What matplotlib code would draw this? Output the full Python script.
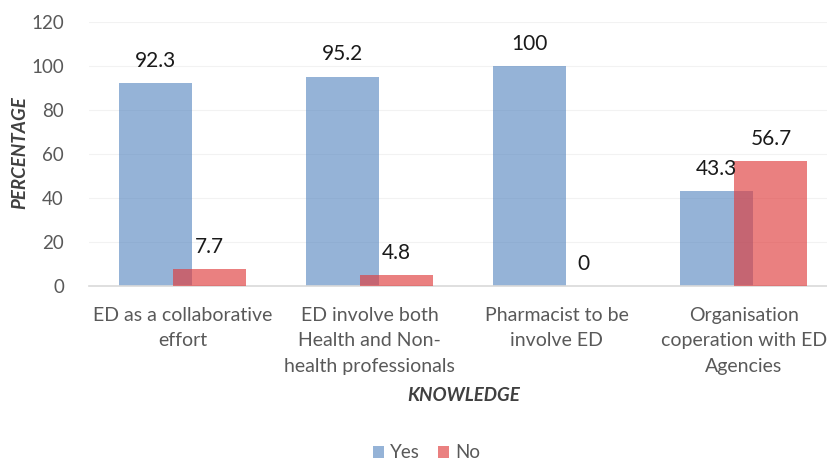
import numpy as np
import matplotlib
matplotlib.use('Agg')
from matplotlib import pyplot as plt

categories = ['ED as a collaborative\neffort',
              'ED involve both\nHealth and Non-\nhealth professionals',
              'Pharmacist to be\ninvolve ED',
              'Organisation\ncoperation with ED\nAgencies']
yes_vals = [92.3, 95.2, 100, 43.3]
no_vals = [7.7, 4.8, 0, 56.7]
yticks = [0, 20, 40, 60, 80, 100, 120]

plt.rcParams['font.family'] = ['Lato', 'DejaVu Sans']

fig = plt.figure(figsize=(8.28, 4.62), dpi=100)
ax = fig.add_axes([0.1075, 0.381, 0.8925, 0.571])

x = np.arange(len(categories))
w = 0.39
off = 0.145
b1 = ax.bar(x - off, yes_vals, w, color='#4f81bd', alpha=0.6, label='Yes', zorder=2)
b2 = ax.bar(x + off, no_vals, w, color='#e03c3c', alpha=0.65, label='No', zorder=3)

for bars, vals in ((b1, yes_vals), (b2, no_vals)):
    for b, v in zip(bars, vals):
        ax.annotate('%g' % v, (b.get_x() + b.get_width() / 2, v),
                    xytext=(0, 16), textcoords='offset points',
                    ha='center', va='center', fontsize=15, color='#1a1a1a', zorder=5)

ax.set_ylim(0, 120)
ax.set_xlim(-0.5, 3.45)
ax.set_yticks(yticks)
ax.set_xticks(x)
ax.set_xticklabels(categories, fontsize=14, color='#595959', linespacing=1.62)
ax.tick_params(axis='y', labelsize=13.5, labelcolor='#595959', length=0, pad=18)
ax.tick_params(axis='x', length=0, pad=15)
ax.grid(axis='y', color='#f2f2f2', linewidth=0.8, zorder=0)
ax.set_axisbelow(True)
for s in ('top', 'right', 'left'):
    ax.spines[s].set_visible(False)
ax.spines['bottom'].set_color('#d9d9d9')
ax.spines['bottom'].set_linewidth(1.2)

fig.text(0.024, 0.67, 'PERCENTAGE', ha='center', va='center', rotation=90, fontsize=13.5,
         fontstyle='italic', fontweight='bold', color='#404040')
fig.text(0.56, 0.143, 'KNOWLEDGE', ha='center', va='center', fontsize=13.5,
         fontstyle='italic', fontweight='bold', color='#404040')

fig.legend(handles=[b1, b2], labels=['Yes', 'No'], loc='center', bbox_to_anchor=(0.515, 0.02),
           ncol=2, frameon=False, fontsize=13.5, handlelength=0.6, handleheight=0.6,
           handletextpad=0.3, columnspacing=1.0, labelcolor='#595959')

fig.savefig('out.png', dpi=100)
